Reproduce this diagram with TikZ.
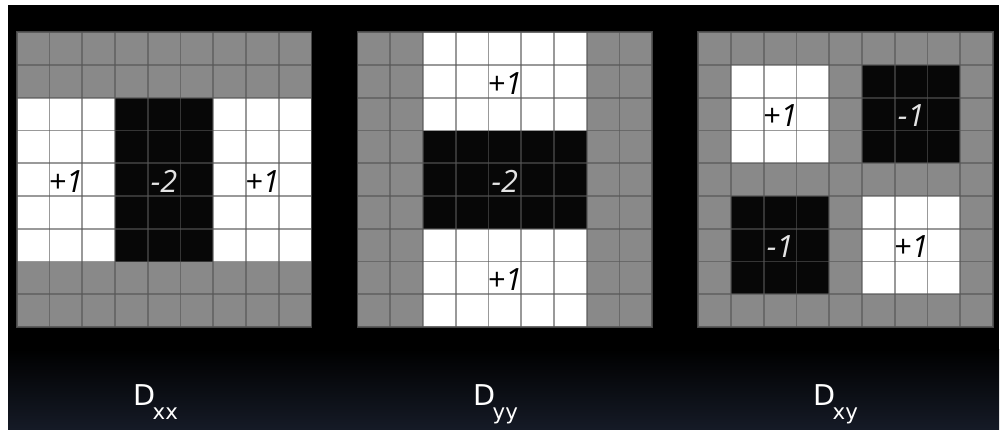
\documentclass[tikz,border=0pt]{standalone}
\usepackage{fontspec}
\setmainfont{DejaVu Sans}
\newfontfamily\cellfont{Open Sans}
\usetikzlibrary{positioning}

\definecolor{cellgray}{HTML}{898989}
\definecolor{cellblack}{HTML}{070707}
\definecolor{linegray}{HTML}{555555}
\definecolor{numwhite}{HTML}{E4E4E4}
\definecolor{bottomnavy}{HTML}{151A26}

\begin{document}
\begin{tikzpicture}[
        x=0.75pt, y=0.75pt,
        graycell/.style={fill=cellgray},
        whitecell/.style={fill=white},
        blackcell/.style={fill=cellblack},
        gridline/.style={draw=linegray, opacity=0.6, line width=1.3pt},
        gridframe/.style={draw=linegray, opacity=0.85, line width=1.3pt},
        num/.style={font=\cellfont\itshape\fontsize{23}{23}\selectfont, inner sep=0pt},
        posnum/.style={num, text=black},
        negnum/.style={num, text=numwhite},
        dlabel/.style={font=\fontsize{21.5}{21.5}\selectfont, text=white, inner sep=0pt, anchor=base west}
    ]

    % --- Background ---
    \useasboundingbox (0,0) rectangle (1000,429);
    \fill[white] (0,0) rectangle (1000,429);
    \fill[black] (8,0) rectangle (999,424);
    \shade[top color=black, bottom color=bottomnavy] (8,0) rectangle (999,80);

    % --- Dxx ---
    \begin{scope}[shift={(16.7,396.7)}, x=24.5625pt, y=-24.5625pt]
        \fill[graycell] (0,0) rectangle (9,9);
        \fill[whitecell] (0,2) rectangle (9,7);
        \fill[blackcell] (3,2) rectangle (6,7);
        \foreach \i in {1,...,8} {
            \draw[gridline] (\i,0) -- (\i,9);
            \draw[gridline] (0,\i) -- (9,\i);
        }
        \draw[gridframe] (0,0) rectangle (9,9);
        \node[posnum] (xxleft) at (1.5,4.55) {+1};
        \node[negnum] (xxmid) at (4.5,4.55) {-2};
        \node[posnum] (xxright) at (7.5,4.55) {+1};
    \end{scope}

    % --- Dyy ---
    \begin{scope}[shift={(357.5,396.7)}, x=24.5625pt, y=-24.5625pt]
        \fill[graycell] (0,0) rectangle (9,9);
        \fill[whitecell] (2,0) rectangle (7,9);
        \fill[blackcell] (2,3) rectangle (7,6);
        \foreach \i in {1,...,8} {
            \draw[gridline] (\i,0) -- (\i,9);
            \draw[gridline] (0,\i) -- (9,\i);
        }
        \draw[gridframe] (0,0) rectangle (9,9);
        \node[posnum] (yytop) at (4.5,1.55) {+1};
        \node[negnum] (yymid) at (4.5,4.55) {-2};
        \node[posnum] (yybottom) at (4.5,7.55) {+1};
    \end{scope}

    % --- Dxy ---
    \begin{scope}[shift={(698.3,396.7)}, x=24.5625pt, y=-24.5625pt]
        \fill[graycell] (0,0) rectangle (9,9);
        \fill[whitecell] (1,1) rectangle (4,4);
        \fill[blackcell] (5,1) rectangle (8,4);
        \fill[blackcell] (1,5) rectangle (4,8);
        \fill[whitecell] (5,5) rectangle (8,8);
        \foreach \i in {1,...,8} {
            \draw[gridline] (\i,0) -- (\i,9);
            \draw[gridline] (0,\i) -- (9,\i);
        }
        \draw[gridframe] (0,0) rectangle (9,9);
        \node[posnum] (xytl) at (2.5,2.55) {+1};
        \node[negnum] (xytr) at (6.5,2.55) {-1};
        \node[negnum] (xybl) at (2.5,6.55) {-1};
        \node[posnum] (xybr) at (6.5,6.55) {+1};
    \end{scope}

    % --- Labels ---
    \node[dlabel] (lblxx) at (133,24) {D\kern-2pt\raisebox{-10.5pt}{\fontsize{16}{16}\selectfont xx}};
    \node[dlabel] (lblyy) at (473,24) {D\kern-2pt\raisebox{-10.5pt}{\fontsize{16}{16}\selectfont yy}};
    \node[dlabel] (lblxy) at (813,24) {D\kern-2pt\raisebox{-10.5pt}{\fontsize{16}{16}\selectfont xy}};

\end{tikzpicture}
\end{document}
